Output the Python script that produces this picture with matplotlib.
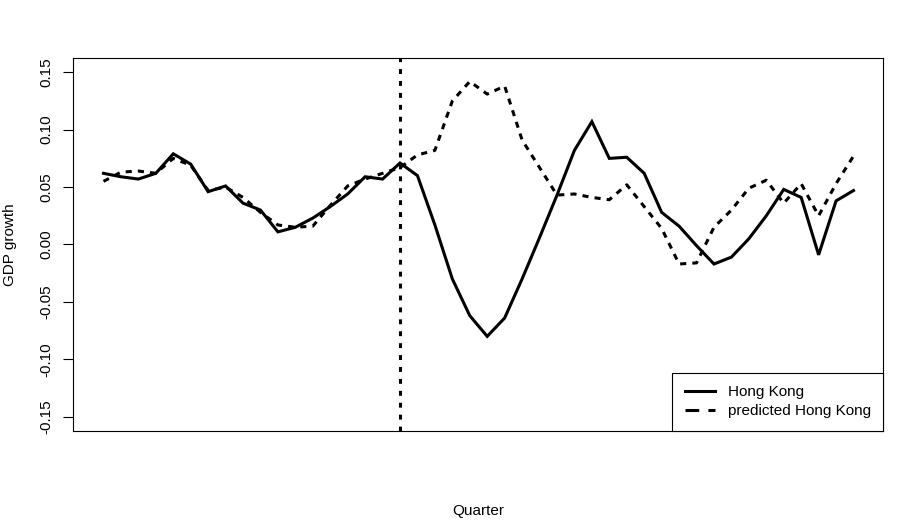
import numpy as np
import matplotlib.pyplot as plt
from matplotlib.lines import Line2D

plt.rcParams.update(
    {
        "font.family": ["Liberation Sans", "DejaVu Sans"],
        "font.size": 11,
    }
)

quarters = np.arange(1, 45)
treat_q = 18

hong_kong = [
    0.062, 0.059, 0.057, 0.062, 0.079, 0.070, 0.046, 0.051, 0.036, 0.030,
    0.011, 0.015, 0.023, 0.033, 0.044, 0.059, 0.057, 0.071, 0.060, 0.017,
    -0.030, -0.062, -0.080, -0.064, -0.030, 0.006, 0.043, 0.082, 0.107, 0.075,
    0.076, 0.062, 0.028, 0.016, -0.001, -0.017, -0.011, 0.005, 0.025, 0.048,
    0.041, -0.009, 0.038, 0.047,
]
predicted = [
    0.055, 0.063, 0.064, 0.062, 0.075, 0.069, 0.047, 0.050, 0.041, 0.028,
    0.017, 0.015, 0.016, 0.034, 0.051, 0.057, 0.062, 0.067, 0.078, 0.082,
    0.125, 0.142, 0.131, 0.138, 0.091, 0.067, 0.043, 0.044, 0.041, 0.039,
    0.052, 0.033, 0.014, -0.017, -0.016, 0.015, 0.030, 0.049, 0.056, 0.036,
    0.053, 0.025, 0.053, 0.077,
]

fig = plt.figure(figsize=(9.04, 5.28), dpi=100)
ax = fig.add_axes([73.5 / 904, 1 - 430.5 / 528, 810 / 904, 372 / 528])

lw = 2.2
ax.plot(quarters, hong_kong, color="black", lw=lw, solid_joinstyle="miter")
ax.plot(quarters, predicted, color="black", lw=lw, dashes=(2.0, 2.0))
ax.axvline(treat_q, color="black", lw=lw, dashes=(1.6, 2.3))

n = len(quarters)
pad = 0.04 * (n - 1)
ax.set_xlim(1 - pad, n + pad)
ax.set_ylim(-0.15 - 0.012, 0.15 + 0.012)
ax.set_xticks([])
yt = [-0.15, -0.10, -0.05, 0.0, 0.05, 0.10, 0.15]
ax.set_yticks(yt)
ax.set_yticklabels([f"{v:.2f}" for v in yt], rotation=90, va="center")
ax.tick_params(axis="y", length=7.2, width=0.8, pad=7)
for s in ax.spines.values():
    s.set_linewidth(0.8)

ax.set_ylabel("GDP growth")
ax.yaxis.set_label_coords(-(73.5 - 10) / 810, 0.5)
ax.set_xlabel("Quarter")
ax.xaxis.set_label_coords(0.5, -(511 - 430.5) / 372)
ax.xaxis.label.set_va("center")
ax.yaxis.label.set_va("center")

handles = [
    Line2D([], [], color="black", lw=lw),
    Line2D([], [], color="black", lw=lw, dashes=(4.5, 3.0)),
]
leg = ax.legend(handles, ["Hong Kong", "predicted Hong Kong"],
                loc="lower right", borderaxespad=0, fancybox=False,
                edgecolor="black", framealpha=1,
                handlelength=2.0, handletextpad=0.85, borderpad=0.8,
                labelspacing=0.32)
leg.get_frame().set_linewidth(0.8)

fig.savefig("out.png", dpi=100)
